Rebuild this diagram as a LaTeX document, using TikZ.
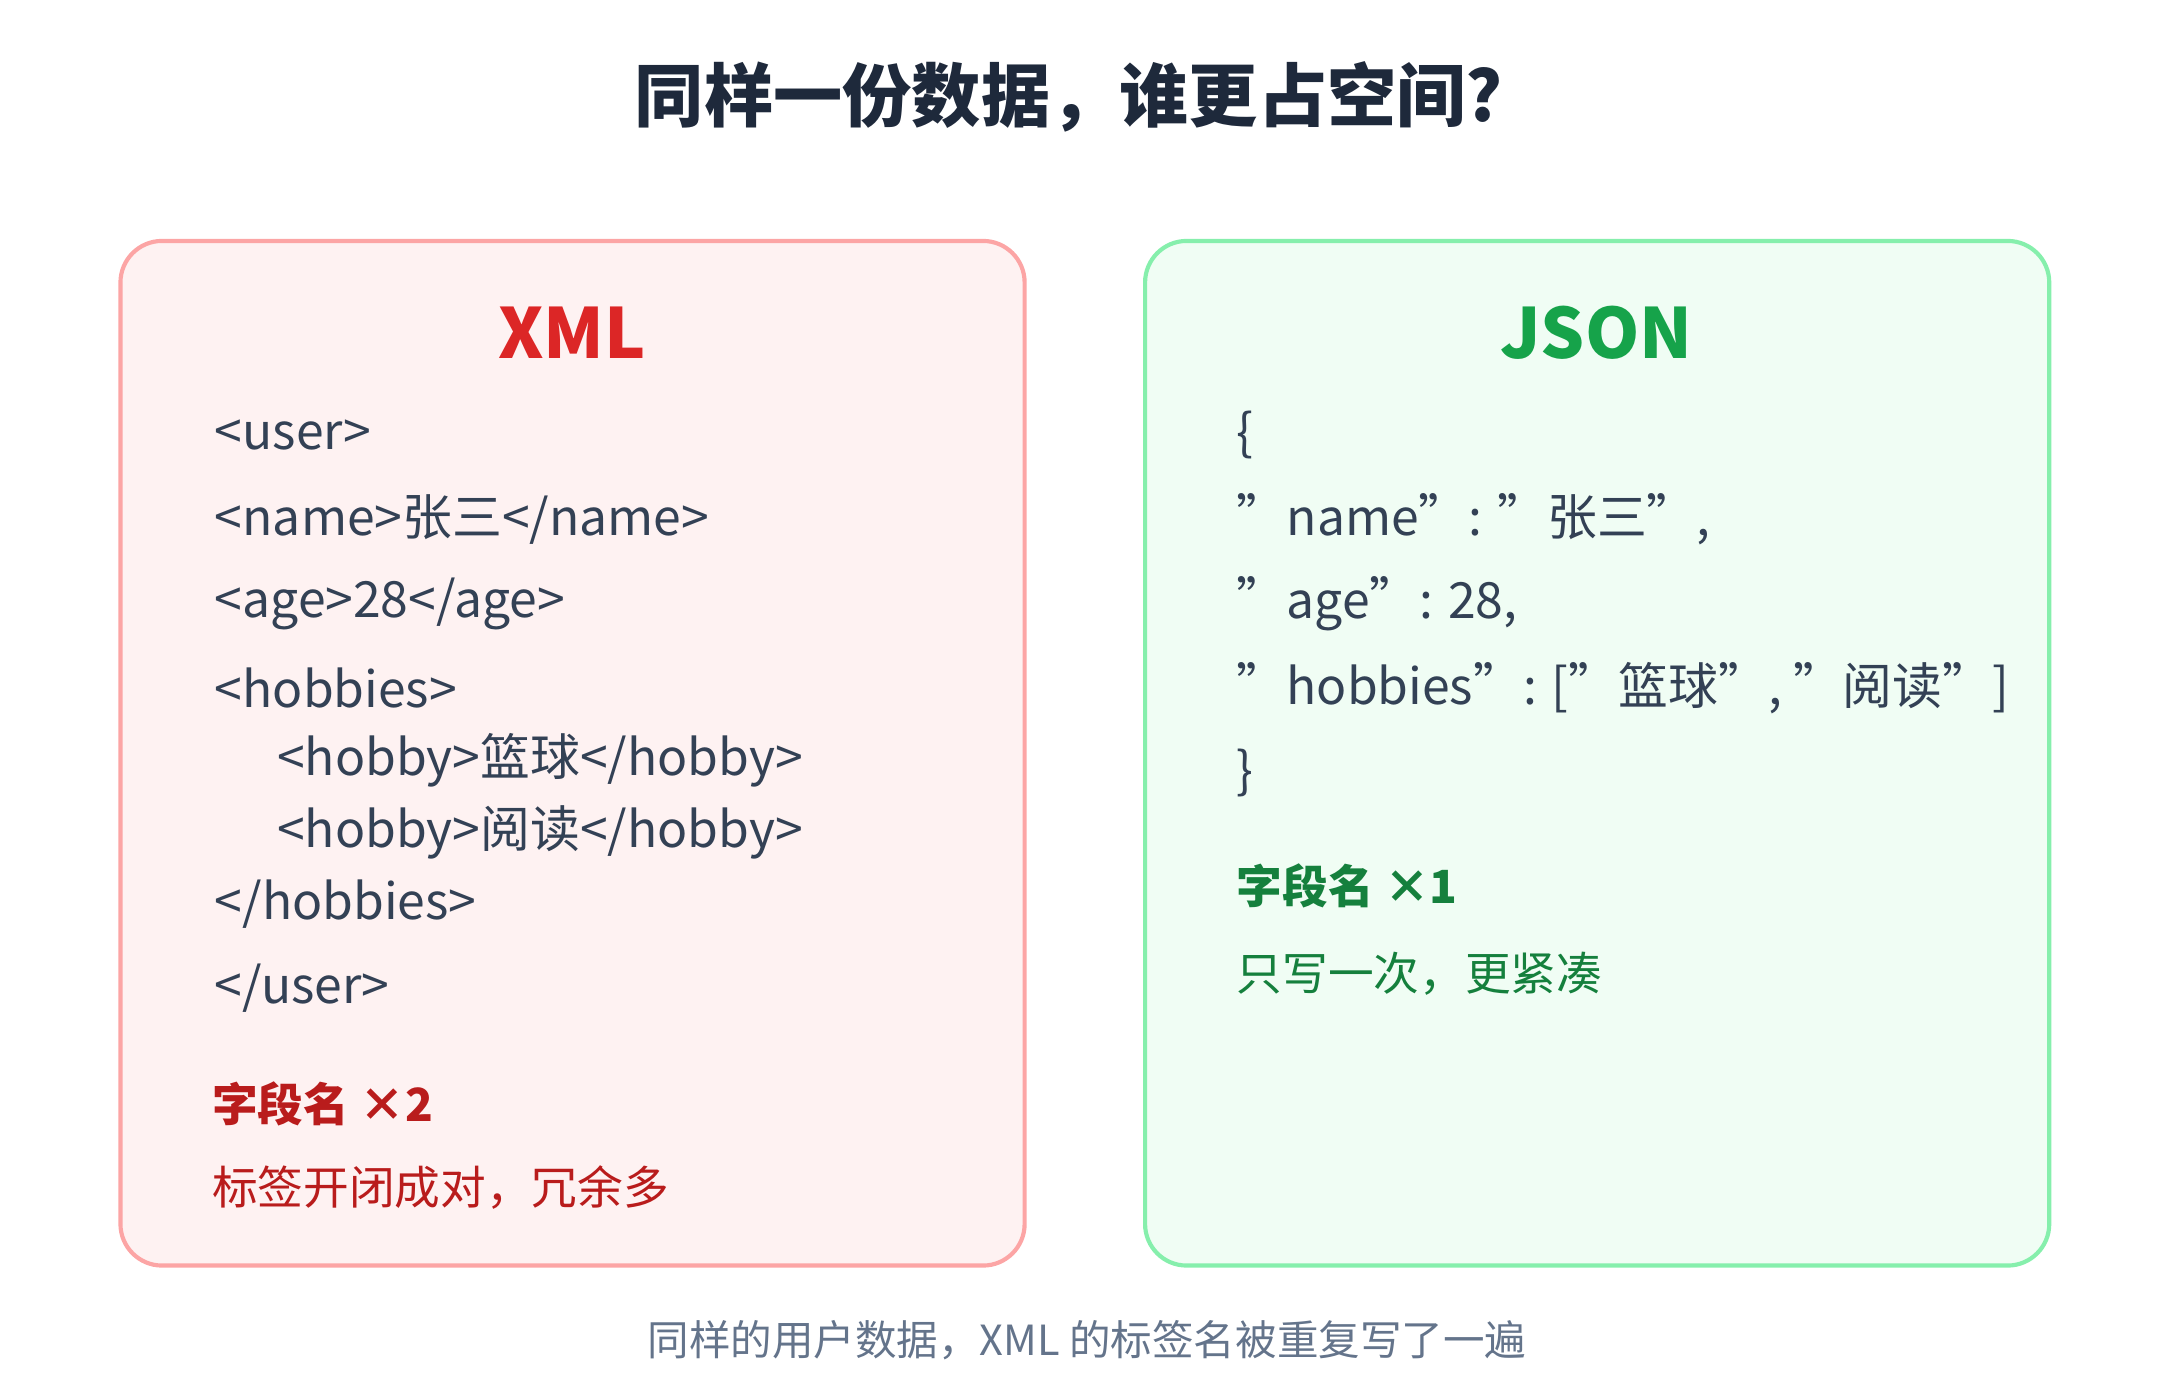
\documentclass[tikz,border=0pt]{standalone}
\usepackage{fontspec}
\setmainfont{Noto Sans CJK SC}
\newcommand{\qq}{\symbol{34}}
\definecolor{ink}{HTML}{1E293B}
\definecolor{code}{HTML}{334155}
\definecolor{xred}{HTML}{DC2626}
\definecolor{dred}{HTML}{B91C1C}
\definecolor{xgreen}{HTML}{16A34A}
\definecolor{dgreen}{HTML}{15803D}
\definecolor{capc}{HTML}{64748B}
\definecolor{rfill}{HTML}{FEF2F2}
\definecolor{rline}{HTML}{FCA5A5}
\definecolor{gfill}{HTML}{F0FDF4}
\definecolor{gline}{HTML}{86EFAC}
\begin{document}
\begin{tikzpicture}[x=1pt,y=-1pt,
  box/.style={rounded corners=30pt,line width=3pt},
  codet/.style={anchor=west,inner sep=0pt,text=code,font=\fontsize{36}{40}\selectfont},
  hd/.style={inner sep=0pt,font=\fontsize{50}{56}\bfseries\selectfont},
  sumb/.style={anchor=west,inner sep=0pt,font=\fontsize{33}{38}\bfseries\selectfont},
  sumr/.style={anchor=west,inner sep=0pt,font=\fontsize{33}{38}\selectfont}]
\useasboundingbox (0,0) rectangle (1560,997);
\node[inner sep=0pt,text=ink,font=\fontsize{50}{56}\bfseries\selectfont] (title) at (772,70) {同样一份数据，谁更占空间?};
\draw[box,fill=rfill,draw=rline] (87,174) rectangle (740,914);
\draw[box,fill=gfill,draw=gline] (827,174) rectangle (1480,914);
\node[hd,text=xred] (xml) at (413,240) {XML};
\node[hd,text=xgreen] (json) at (1153,240) {JSON};
\node[codet] (l1) at (155,314) {<user>};
\node[codet] (l2) at (155,375) {<name>张三</name>};
\node[codet] (l3) at (155,436) {<age>28</age>};
\node[codet] (l4) at (155,497) {<hobbies>};
\node[codet] (l5) at (200,549) {<hobby>篮球</hobby>};
\node[codet] (l6) at (200,601) {<hobby>阅读</hobby>};
\node[codet] (l7) at (155,653) {</hobbies>};
\node[codet] (l8) at (155,714) {</user>};
\node[sumb,text=dred] (xs) at (153,797) {字段名 ×2};
\node[sumr,text=dred] (xd) at (153,858) {标签开闭成对，冗余多};
\node[codet] (r1) at (893,314) {\{};
\node[codet] (r2) at (893,375) {\qq name\qq: \qq 张三\qq,};
\node[codet] (r3) at (893,436) {\qq age\qq: 28,};
\node[codet] (r4) at (893,497) {\qq hobbies\qq: [\qq 篮球\qq, \qq 阅读\qq]};
\node[codet] (r5) at (893,558) {\}};
\node[sumb,text=dgreen] (js) at (893,640) {字段名 ×1};
\node[sumr,text=dgreen] (jd) at (893,703) {只写一次，更紧凑};
\node[inner sep=0pt,text=capc,font=\fontsize{30}{34}\selectfont] (caption) at (785,968) {同样的用户数据，XML 的标签名被重复写了一遍};
\end{tikzpicture}
\end{document}
